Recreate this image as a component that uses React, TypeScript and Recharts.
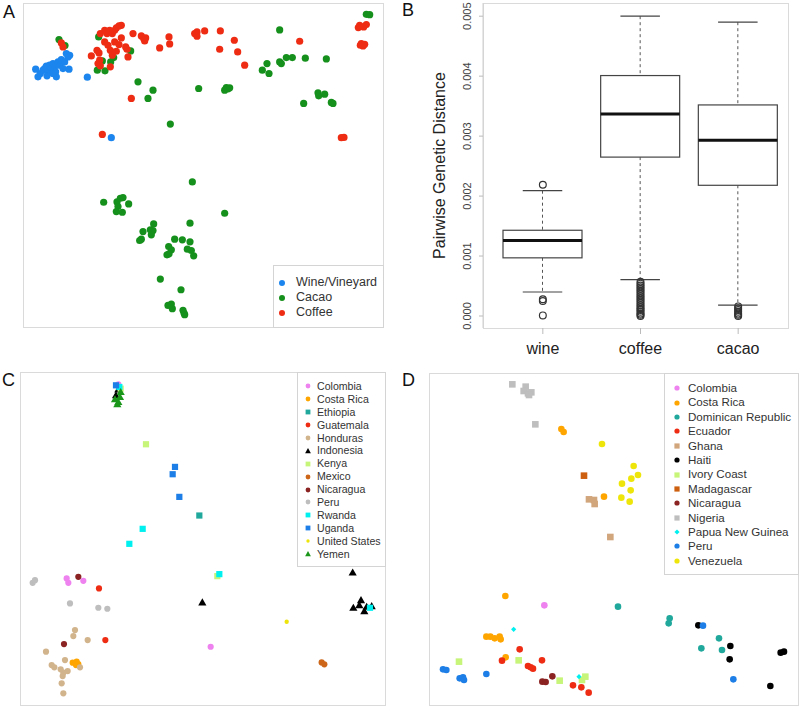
import React from "react";
import {
  Bar,
  ComposedChart,
  Legend,
  Scatter,
  ScatterChart,
  XAxis,
  YAxis,
} from "recharts";

const FONT = '"Liberation Sans", Arial, Helvetica, sans-serif';

type Pt = [number, number];

// ---- Panel A: ordination of all samples (units) ----
const sourceNames = ["Wine/Vineyard", "Cacao", "Coffee"];
const sourceColors = ["#1c86ee", "#16901c", "#ee2c14"];

const winePts: Pt[] = [
  [108, 207], [115, 230], [122, 220], [135, 205], [140, 198], [145, 215],
  [150, 195], [155, 203], [160, 190], [165, 200], [168, 215], [170, 230],
  [175, 185], [180, 195], [185, 178], [190, 205], [195, 185], [200, 160],
  [205, 170], [210, 165], [208, 207], [160, 220], [142, 227], [130, 210],
  [263, 231], [335, 413],
];

const cacaoPts: Pt[] = [
  [178, 118], [196, 136], [297, 110], [293, 210], [316, 212], [308, 182],
  [333, 185], [342, 172], [393, 152], [415, 245], [460, 270], [445, 295],
  [512, 372], [597, 265], [675, 270], [680, 262], [685, 266], [690, 263],
  [840, 89], [788, 210], [802, 190], [808, 220], [840, 185], [845, 190],
  [860, 172], [878, 172], [917, 174], [980, 176], [912, 310], [955, 278],
  [957, 287], [975, 282], [995, 307], [1000, 310], [1100, 42], [1110, 43],
  [578, 546], [312, 607], [352, 606], [362, 595], [370, 593], [387, 612],
  [355, 620], [350, 635], [368, 637], [675, 640], [571, 670], [462, 672],
  [430, 695], [452, 690], [460, 692], [455, 705], [420, 722], [425, 718],
  [525, 718], [548, 720], [571, 726], [507, 740], [515, 750], [502, 765],
  [508, 762], [563, 748], [575, 752], [582, 768], [482, 838], [544, 870],
  [505, 917], [515, 913], [518, 927], [550, 932], [553, 940], [555, 945],
];

const coffeePts: Pt[] = [
  [185, 128], [190, 140], [275, 167], [292, 150], [298, 158], [302, 100],
  [315, 90], [322, 100], [330, 90], [338, 100], [345, 90], [350, 83],
  [358, 77], [365, 75], [365, 113], [315, 125], [325, 135], [332, 150],
  [345, 125], [350, 153], [358, 133], [295, 190], [300, 180], [302, 197],
  [332, 200], [338, 165], [378, 140], [382, 147], [385, 170], [400, 100],
  [425, 107], [432, 115], [438, 113], [435, 122], [480, 143], [508, 110],
  [510, 131], [585, 100], [592, 95], [592, 108], [615, 92], [662, 92],
  [660, 147], [704, 120], [714, 155], [735, 195], [900, 123], [1080, 75],
  [1092, 80], [1100, 73], [1085, 130], [1090, 137], [1082, 135], [1095, 132],
  [1076, 82], [395, 295], [308, 403], [1025, 413], [1033, 412],
];

// ---- Panel B: pairwise genetic distance ----
const boxCats = ["wine", "coffee", "cacao"];
const boxLow = [0.0004, 0.000606, 0.000183];
const boxQ1 = [0.00097, 0.00265, 0.00218];
const boxMedian = [0.00126, 0.00337, 0.00293];
const boxQ3 = [0.00143, 0.00401, 0.00352];
const boxHigh = [0.00209, 0.005, 0.0049];
const wineOutliers = [0.00219, 0.00028, 0.00025, 0.00001];
const coffeeOutliers = [
  0, 0.00002, 0.00004, 0.00007, 0.0001, 0.00012, 0.00015, 0.00018, 0.00021,
  0.00024, 0.00027, 0.0003, 0.00033, 0.00036, 0.00039, 0.00042, 0.00045,
  0.00048, 0.00051, 0.00054, 0.00057,
];
const cacaoOutliers = [0, 0.00002, 0.00004, 0.00007, 0.0001, 0.00013, 0.00016];
const distTicks = [0, 0.001, 0.002, 0.003, 0.004, 0.005];

// ---- Panel C: coffee samples by country ----
const coffeeCountries = [
  "Colombia", "Costa Rica", "Ethiopia", "Guatemala", "Honduras", "Indonesia",
  "Kenya", "Mexico", "Nicaragua", "Peru", "Rwanda", "Uganda",
  "United States", "Yemen",
];
const coffeeColors = [
  "#ee82ee", "#ffa500", "#20a89c", "#ee2c14", "#d2b48c", "#000000",
  "#c6f57a", "#cd6618", "#8b2323", "#bebebe", "#00f0f0", "#1c7ee6",
  "#ece40a", "#1a961a",
];
const coffeeShapes = [
  "circle", "circle", "square", "circle", "circle", "triangle",
  "square", "circle", "circle", "circle", "square", "square",
  "small", "triangle",
];
const coffeeCountryPts: Pt[][] = [
  [[355, 162], [200, 745], [205, 758], [250, 752], [632, 950]],
  [[218, 998], [230, 995], [228, 1005], [235, 1002]],
  [[598, 556]],
  [[297, 775], [316, 930]],
  [[225, 900], [220, 918], [263, 930], [138, 965], [155, 1005], [163, 1012],
   [195, 990], [182, 1018], [190, 1028], [203, 1023], [188, 1038], [185, 1060],
   [190, 1090], [240, 1012]],
  [[355, 177], [348, 195], [607, 817], [1058, 727], [1060, 833], [1083, 810],
   [1093, 843], [1115, 828], [1078, 825], [1100, 830]],
  [[438, 342], [652, 738], [362, 175]],
  [[965, 997], [973, 1003]],
  [[235, 740], [192, 942]],
  [[98, 758], [105, 750], [210, 820], [295, 833], [322, 836]],
  [[428, 596], [388, 641], [658, 732], [1110, 833], [358, 170]],
  [[525, 410], [518, 432], [538, 500], [348, 165]],
  [[860, 875]],
  [[362, 185], [345, 207], [355, 215], [352, 222], [360, 200]],
];

// ---- Panel D: cacao samples by country ----
const cacaoCountries = [
  "Colombia", "Costa Rica", "Dominican Republic", "Ecuador", "Ghana", "Haiti",
  "Ivory Coast", "Madagascar", "Nicaragua", "Nigeria", "Papua New Guinea",
  "Peru", "Venezuela",
];
const cacaoColors = [
  "#ee82ee", "#ffa500", "#20a89c", "#ee2c14", "#d2a67c", "#000000",
  "#c6f57a", "#cd6010", "#8b2323", "#bebebe", "#00f0f0", "#1c7ee6",
  "#eee60a",
];
const cacaoShapes = [
  "circle", "circle", "circle", "circle", "square", "circle",
  "square", "square", "circle", "square", "diamond", "circle", "circle",
];
const cacaoCountryPts: Pt[][] = [
  [[434, 826]],
  [[485, 297], [492, 306], [613, 500], [317, 798], [260, 920], [272, 920],
   [285, 925], [300, 920], [303, 928], [318, 982]],
  [[655, 830], [810, 865], [807, 880], [958, 925], [905, 955], [967, 960]],
  [[360, 958], [307, 992], [427, 991], [385, 1008], [393, 1012], [400, 1016],
   [520, 1066], [545, 1072], [567, 1088]],
  [[568, 508], [583, 510], [585, 522], [632, 621]],
  [[896, 886], [992, 948], [990, 988], [1143, 968], [1153, 965], [1112, 1068]],
  [[178, 995], [357, 991], [480, 1052], [547, 1050], [557, 1040]],
  [[553, 437]],
  [[458, 1039], [428, 1055], [438, 1056]],
  [[338, 163], [378, 170], [372, 183], [385, 190], [395, 187], [388, 195],
   [407, 283]],
  [[342, 898], [538, 1040]],
  [[130, 1018], [140, 1020], [180, 1045], [190, 1042], [193, 1050],
   [260, 1032], [910, 887], [1001, 1048]],
  [[607, 342], [702, 408], [715, 435], [695, 446], [667, 461], [693, 481],
   [665, 503], [690, 515]],
];

const toXY = (pts: Pt[]) => pts.map(([x, y]) => ({ x, y }));

function Marker({ kind, cx, cy, color, r }: any) {
  if (kind === "square") {
    return <rect x={cx - r} y={cy - r} width={2 * r} height={2 * r} fill={color} />;
  }
  if (kind === "triangle") {
    const h = r * 1.2;
    return (
      <polygon
        points={`${cx},${cy - h} ${cx - h},${cy + h * 0.75} ${cx + h},${cy + h * 0.75}`}
        fill={color}
      />
    );
  }
  if (kind === "diamond") {
    return (
      <polygon
        points={`${cx},${cy - r} ${cx + r},${cy} ${cx},${cy + r} ${cx - r},${cy}`}
        fill={color}
      />
    );
  }
  if (kind === "small") return <circle cx={cx} cy={cy} r={r * 0.7} fill={color} />;
  return <circle cx={cx} cy={cy} r={r} fill={color} />;
}

function legendContent(
  names: string[],
  colors: string[],
  shapes: string[],
  o: { w: number; h: number; row: number; top: number; mx: number; tx: number; fs: number; r: number }
) {
  return () => (
    <div
      style={{
        width: o.w,
        height: o.h,
        boxSizing: "border-box",
        border: "1px solid #d4d4d4",
        background: "#fff",
        paddingTop: o.top,
        fontFamily: FONT,
      }}
    >
      {names.map((n, i) => (
        <div key={n} style={{ position: "relative", height: o.row }}>
          <svg
            width={12}
            height={12}
            style={{ position: "absolute", left: o.mx - 6, top: o.row / 2 - 6 }}
          >
            <Marker kind={shapes[i]} cx={6} cy={6} color={colors[i]} r={o.r} />
          </svg>
          <span
            style={{
              position: "absolute",
              left: o.tx,
              top: 0,
              lineHeight: `${o.row}px`,
              fontSize: o.fs,
              color: "#333",
              whiteSpace: "nowrap",
            }}
          >
            {n}
          </span>
        </div>
      ))}
    </div>
  );
}

const frame = (left: number, top: number, width: number, height: number) => (
  <div
    style={{
      position: "absolute",
      left,
      top,
      width,
      height,
      boxSizing: "border-box",
      border: "1px solid #dadada",
    }}
  />
);

const panelLabel = (t: string, left: number, top: number) => (
  <div
    style={{
      position: "absolute",
      left,
      top,
      fontSize: 18,
      lineHeight: "18px",
      color: "#111",
      fontFamily: FONT,
    }}
  >
    {t}
  </div>
);

function BoxShape(props: any) {
  const { x, y, width, height, payload } = props;
  const { q1, q3, median, low, high } = payload;
  const ppu = height / (q3 - q1);
  const py = (v: number) => y + (q3 - v) * ppu;
  const cx = x + width / 2;
  const cap = width / 4;
  return (
    <g>
      <line x1={cx} x2={cx} y1={py(high)} y2={y} stroke="#555" strokeDasharray="3 3" />
      <line x1={cx} x2={cx} y1={y + height} y2={py(low)} stroke="#555" strokeDasharray="3 3" />
      <line x1={cx - cap} x2={cx + cap} y1={py(high)} y2={py(high)} stroke="#444" strokeWidth={1.2} />
      <line x1={cx - cap} x2={cx + cap} y1={py(low)} y2={py(low)} stroke="#444" strokeWidth={1.2} />
      <rect x={x} y={y} width={width} height={height} fill="#fff" stroke="#444" strokeWidth={1.2} />
      <line x1={x} x2={x + width} y1={py(median)} y2={py(median)} stroke="#111" strokeWidth={3} />
    </g>
  );
}

const boxData = boxCats.map((cat, i) => ({
  cat,
  range: [boxQ1[i], boxQ3[i]],
  q1: boxQ1[i],
  q3: boxQ3[i],
  median: boxMedian[i],
  low: boxLow[i],
  high: boxHigh[i],
}));

const outlierData = [
  ...wineOutliers.map((v) => ({ cat: "wine", dist: v })),
  ...coffeeOutliers.map((v) => ({ cat: "coffee", dist: v })),
  ...cacaoOutliers.map((v) => ({ cat: "cacao", dist: v })),
];

const DistTick = (p: any) => (
  <text
    x={p.x}
    y={p.y}
    transform={`rotate(-90 ${p.x} ${p.y})`}
    textAnchor="middle"
    fontSize={11}
    fill="#444"
    fontFamily={FONT}
  >
    {Number(p.payload.value).toFixed(3)}
  </text>
);

const DistLabel = (p: any) => {
  const vb = p.viewBox || { x: 43, y: 3, height: 325 };
  const x = vb.x + 2;
  const y = vb.y + vb.height / 2;
  return (
    <text
      x={x}
      y={y}
      transform={`rotate(-90 ${x} ${y})`}
      textAnchor="middle"
      fontSize={16}
      fill="#222"
      fontFamily={FONT}
    >
      Pairwise Genetic Distance
    </text>
  );
};

export default function App() {
  const allSources = [winePts, cacaoPts, coffeePts];
  return (
    <div
      style={{
        position: "absolute",
        left: 0,
        top: 0,
        width: 800,
        height: 707,
        background: "#fff",
        overflow: "hidden",
        fontFamily: FONT,
      }}
    >
      {/* A */}
      {frame(23, 3, 361, 325)}
      <div style={{ position: "absolute", left: 23, top: 3 }}>
        <ScatterChart width={360} height={325} margin={{ top: 0, right: 0, bottom: 0, left: 0 }}>
          <XAxis type="number" dataKey="x" domain={[70, 1150]} hide allowDataOverflow />
          <YAxis type="number" dataKey="y" domain={[8, 985]} reversed hide allowDataOverflow />
          {sourceNames.map((n, i) => (
            <Scatter
              key={n}
              name={n}
              data={toXY(allSources[i])}
              fill={sourceColors[i]}
              isAnimationActive={false}
              shape={(p: any) => (
                <Marker kind="circle" cx={p.cx} cy={p.cy} color={sourceColors[i]} r={3.6} />
              )}
            />
          ))}
          <Legend
            layout="horizontal"
            verticalAlign="middle"
            align="center"
            wrapperStyle={{ left: 250, top: 262 }}
            content={legendContent(sourceNames, sourceColors, ["circle", "circle", "circle"], {
              w: 111, h: 63, row: 15, top: 9, mx: 8, tx: 22, fs: 12.5, r: 3,
            })}
          />
        </ScatterChart>
      </div>
      {panelLabel("A", 3, 3)}

      {/* B */}
      {frame(483, 3, 306, 326)}
      <div style={{ position: "absolute", left: 400, top: 0 }}>
        <ComposedChart
          width={400}
          height={370}
          data={boxData}
          margin={{ top: 3, right: 12, bottom: 12, left: 43 }}
        >
          <XAxis
            dataKey="cat"
            type="category"
            allowDuplicatedCategory={false}
            padding={{ left: 11, right: 1 }}
            height={30}
            axisLine={false}
            tickLine={{ stroke: "#bbb" }}
            tickSize={6}
            tickMargin={9}
            tick={{ fontSize: 16, fill: "#222", fontFamily: FONT }}
          />
          <YAxis
            type="number"
            width={40}
            domain={[-0.0002, 0.00522]}
            allowDataOverflow
            ticks={distTicks}
            tickSize={4}
            tickMargin={8}
            tickLine={{ stroke: "#bbb" }}
            axisLine={{ stroke: "#d0d0d0" }}
            tick={DistTick}
            label={{ content: DistLabel }}
          />
          <Bar dataKey="range" barSize={79} isAnimationActive={false} shape={BoxShape} />
          <Scatter
            data={outlierData}
            dataKey="dist"
            isAnimationActive={false}
            shape={(p: any) => (
              <circle cx={p.cx} cy={p.cy} r={3.4} fill="none" stroke="#333" strokeWidth={1.2} />
            )}
          />
        </ComposedChart>
      </div>
      {panelLabel("B", 402, 1)}

      {/* C */}
      {frame(20, 372, 366, 334)}
      <div style={{ position: "absolute", left: 20, top: 372 }}>
        <ScatterChart width={365} height={333} margin={{ top: 0, right: 0, bottom: 0, left: 0 }}>
          <XAxis type="number" dataKey="x" domain={[60, 1155]} hide allowDataOverflow />
          <YAxis type="number" dataKey="y" domain={[125, 1125]} reversed hide allowDataOverflow />
          {coffeeCountries.map((n, i) => (
            <Scatter
              key={n}
              name={n}
              data={toXY(coffeeCountryPts[i])}
              fill={coffeeColors[i]}
              isAnimationActive={false}
              shape={(p: any) => (
                <Marker
                  kind={coffeeShapes[i]}
                  cx={p.cx}
                  cy={p.cy}
                  color={coffeeColors[i]}
                  r={coffeeShapes[i] === "triangle" ? 3.4 : 3.1}
                />
              )}
            />
          ))}
          <Legend
            layout="horizontal"
            verticalAlign="middle"
            align="center"
            wrapperStyle={{ left: 277, top: 0 }}
            content={legendContent(coffeeCountries, coffeeColors, coffeeShapes, {
              w: 89, h: 195, row: 12.9, top: 7, mx: 10, tx: 19, fs: 10.6, r: 2.4,
            })}
          />
        </ScatterChart>
      </div>
      {panelLabel("C", 2, 371)}

      {/* D */}
      {frame(429, 373, 370, 333)}
      <div style={{ position: "absolute", left: 429, top: 373 }}>
        <ScatterChart width={369} height={332} margin={{ top: 0, right: 0, bottom: 0, left: 0 }}>
          <XAxis type="number" dataKey="x" domain={[88, 1195]} hide allowDataOverflow />
          <YAxis type="number" dataKey="y" domain={[129, 1125]} reversed hide allowDataOverflow />
          {cacaoCountries.map((n, i) => (
            <Scatter
              key={n}
              name={n}
              data={toXY(cacaoCountryPts[i])}
              fill={cacaoColors[i]}
              isAnimationActive={false}
              shape={(p: any) => (
                <Marker
                  kind={cacaoShapes[i]}
                  cx={p.cx}
                  cy={p.cy}
                  color={cacaoColors[i]}
                  r={cacaoShapes[i] === "diamond" ? 2.6 : 3.3}
                />
              )}
            />
          ))}
          <Legend
            layout="horizontal"
            verticalAlign="middle"
            align="center"
            wrapperStyle={{ left: 235, top: 0 }}
            content={legendContent(cacaoCountries, cacaoColors, cacaoShapes, {
              w: 135, h: 202, row: 14.4, top: 7, mx: 12, tx: 23, fs: 11.6, r: 2.6,
            })}
          />
        </ScatterChart>
      </div>
      {panelLabel("D", 402, 371)}
    </div>
  );
}
